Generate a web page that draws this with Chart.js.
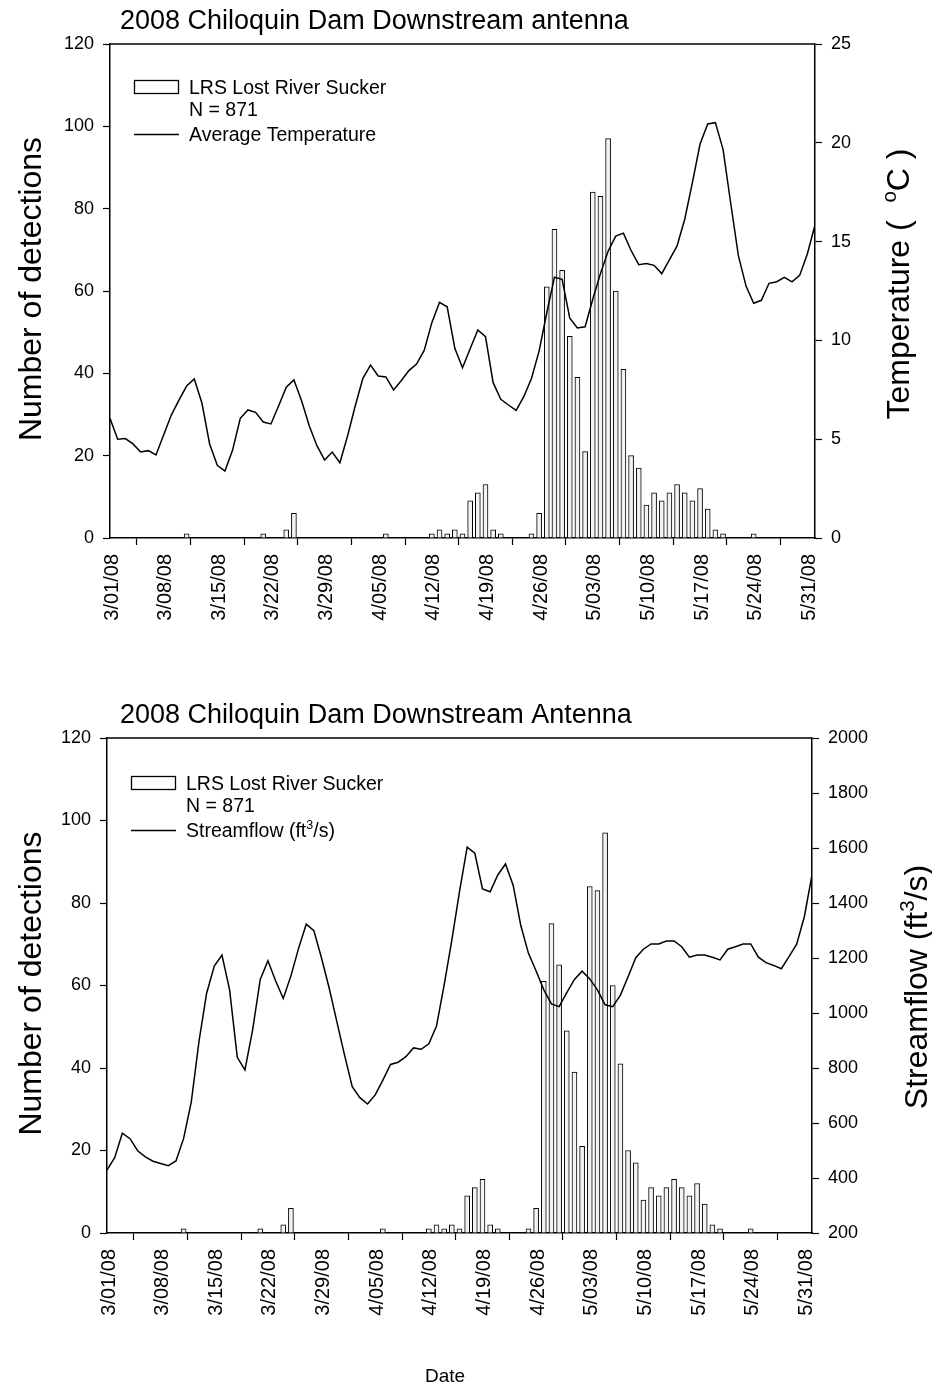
<!DOCTYPE html>
<html>
<head>
<meta charset="utf-8">
<script src="https://cdn.jsdelivr.net/npm/chart.js@4.4.1/dist/chart.umd.min.js"></script>
<style>
  html, body { margin: 0; padding: 0; background: #fff; }
  canvas { position: absolute; left: 0; }
  #top { top: 0; }
  #bottom { top: 690px; }
</style>
</head>
<body>
<canvas id="top" width="932" height="690"></canvas>
<canvas id="bottom" width="932" height="697"></canvas>
<script>
// day index 0 = 3/01/08
const tickDays = [0, 7, 14, 21, 28, 35, 42, 49, 56, 63, 70, 77, 84, 91];
const tickLabels = ['3/01/08', '3/08/08', '3/15/08', '3/22/08', '3/29/08', '4/05/08', '4/12/08',
  '4/19/08', '4/26/08', '5/03/08', '5/10/08', '5/17/08', '5/24/08', '5/31/08'];

// daily detections (only days with detections)
const barDays = [10, 20, 23, 24, 36, 42, 43, 44, 45, 46, 47, 48, 49, 50, 51, 55, 56,
  57, 58, 59, 60, 61, 62, 63, 64, 65, 66, 67, 68, 69, 70, 71, 72, 73, 74, 75, 76, 77, 78, 79, 80, 84];
const barCounts = [1, 1, 2, 6, 1, 1, 2, 1, 2, 1, 9, 11, 13, 2, 1, 1, 6,
  61, 75, 65, 49, 39, 21, 84, 83, 97, 60, 41, 20, 17, 8, 11, 9, 11, 13, 11, 9, 12, 7, 2, 1, 1];

// average temperature, deg C, days 0..92
const tempValues = [6.06, 5.00, 5.03, 4.76, 4.35, 4.42, 4.20, 5.21, 6.22, 6.98,
  7.69, 8.05, 6.82, 4.76, 3.68, 3.39, 4.45, 6.06, 6.48, 6.36,
  5.87, 5.77, 6.68, 7.63, 8.00, 6.95, 5.68, 4.67, 3.95, 4.35,
  3.81, 5.16, 6.68, 8.08, 8.75, 8.20, 8.15, 7.49, 7.96, 8.47,
  8.80, 9.49, 10.90, 11.93, 11.70, 9.60, 8.62, 9.58, 10.53, 10.19,
  7.86, 7.02, 6.73, 6.46, 7.15, 8.07, 9.47, 11.40, 13.20, 13.09,
  11.12, 10.63, 10.69, 12.08, 13.38, 14.51, 15.28, 15.43, 14.55, 13.83,
  13.89, 13.80, 13.38, 14.07, 14.78, 16.13, 17.98, 19.94, 20.95, 21.02,
  19.67, 16.94, 14.29, 12.75, 11.88, 12.03, 12.89, 12.97, 13.19, 12.96,
  13.29, 14.37, 15.84];

// streamflow, ft3/s, days 0..92
const flowValues = [429, 474, 563, 543, 499, 477, 461, 453, 445, 462,
  544, 677, 896, 1072, 1171, 1211, 1084, 839, 793, 938,
  1122, 1190, 1117, 1053, 1135, 1235, 1323, 1299, 1199, 1090,
  968, 847, 732, 692, 669, 702, 756, 813, 821, 841,
  873, 868, 888, 953, 1102, 1265, 1441, 1603, 1581, 1451,
  1441, 1502, 1542, 1465, 1318, 1217, 1153, 1084, 1033, 1023,
  1074, 1122, 1152, 1124, 1084, 1030, 1023, 1065, 1132, 1201,
  1232, 1251, 1251, 1262, 1262, 1241, 1203, 1211, 1211, 1203,
  1193, 1232, 1241, 1251, 1251, 1203, 1183, 1173, 1161, 1205,
  1250, 1350, 1502];

const FONT = '"Liberation Sans", Arial, Helvetica, sans-serif';
Chart.defaults.font.family = FONT;
Chart.defaults.color = '#000';

// text with optional superscript parts: [[text, isSup], ...]
function drawRich(ctx, parts, size, x, y, rotate, align) {
  ctx.save();
  ctx.translate(x, y);
  if (rotate) ctx.rotate(-Math.PI / 2);
  let w = 0;
  parts.forEach(p => {
    ctx.font = (p[1] ? size * 0.64 : size) + 'px ' + FONT;
    w += ctx.measureText(p[0]).width;
  });
  let cx = align === 'left' ? 0 : -w / 2;
  ctx.textBaseline = 'alphabetic';
  ctx.fillStyle = '#000';
  parts.forEach(p => {
    ctx.font = (p[1] ? size * 0.64 : size) + 'px ' + FONT;
    ctx.fillText(p[0], cx, p[1] ? size * 0.35 - size * 0.42 : size * 0.35);
    cx += ctx.measureText(p[0]).width;
  });
  ctx.restore();
}

const panelText = {
  id: 'panelText',
  afterDraw(chart) {
    const o = chart.options.plugins.panelText;
    const ctx = chart.ctx, a = chart.chartArea;
    ctx.save();
    // frame top line
    ctx.strokeStyle = '#000';
    ctx.lineWidth = 1.5;
    ctx.beginPath();
    ctx.moveTo(a.left, a.top);
    ctx.lineTo(a.right, a.top);
    ctx.stroke();

    ctx.fillStyle = '#000';
    ctx.font = '27px ' + FONT;
    ctx.textBaseline = 'alphabetic';
    ctx.fillText(o.title, 120, o.titleY);

    drawRich(ctx, [['Number of detections']], 32, 30, (a.top + a.bottom) / 2 - 2, true);
    drawRich(ctx, o.rightTitle, 32, o.rightX, o.rightY, true);

    // legend
    const lx = a.left + 24, ly = o.legendY;
    ctx.lineWidth = 1.3;
    ctx.fillStyle = '#fff';
    ctx.fillRect(lx, ly - 7, 44, 14);
    ctx.strokeRect(lx + 0.5, ly - 6.5, 44, 13);
    ctx.lineWidth = 1.5;
    ctx.beginPath();
    ctx.moveTo(lx, ly + 47.5);
    ctx.lineTo(lx + 45, ly + 47.5);
    ctx.stroke();
    drawRich(ctx, [['LRS Lost River Sucker']], 19.5, lx + 55, ly, false, 'left');
    drawRich(ctx, [['N = 871']], 19.5, lx + 55, ly + 22, false, 'left');
    drawRich(ctx, o.lineLabel, 19.5, lx + 55, ly + 47, false, 'left');

    if (o.xTitle) drawRich(ctx, [[o.xTitle]], 19, 445, o.xTitleY, false);
    ctx.restore();
  }
};

function axisStyle() {
  return {
    grid: { display: true, drawOnChartArea: false, drawTicks: true, tickLength: 7, color: '#000', tickWidth: 1.2 },
    border: { display: true, color: '#000', width: 1.5 }
  };
}

function makePanel(id, o) {
  return new Chart(document.getElementById(id), {
    type: 'bar',
    data: {
      datasets: [
        {
          type: 'line',
          data: o.line.map((v, i) => ({ x: i, y: v })),
          yAxisID: 'y1',
          borderColor: '#000',
          borderWidth: 1.5,
          pointRadius: 0,
          tension: 0,
          order: 0
        },
        {
          data: barDays.map((d, i) => ({ x: d, y: barCounts[i] })),
          yAxisID: 'y',
          backgroundColor: '#f3f3f3',
          borderColor: '#000',
          borderWidth: 1,
          barThickness: 5,
          order: 1
        }
      ]
    },
    options: {
      responsive: false,
      animation: false,
      layout: { padding: { top: o.top, left: 0, right: 0, bottom: 0 } },
      plugins: { legend: { display: false }, tooltip: { enabled: false }, panelText: o },
      scales: {
        x: Object.assign(axisStyle(), {
          type: 'linear',
          offset: false,
          min: 0,
          max: 92,
          afterBuildTicks: s => { s.ticks = tickDays.map(v => ({ value: v })); },
          afterFit: s => { s.height = o.xHeight; },
          ticks: {
            callback: v => tickLabels[tickDays.indexOf(v)],
            minRotation: 90,
            maxRotation: 90,
            padding: 9,
            labelOffset: 2,
            font: { size: 20 },
            color: '#000'
          }
        }),
        y: Object.assign(axisStyle(), {
          position: 'left',
          min: 0,
          max: 120,
          afterFit: s => { s.width = o.leftW; },
          ticks: { stepSize: 20, padding: 9, font: { size: 18 }, color: '#000' }
        }),
        y1: Object.assign(axisStyle(), {
          position: 'right',
          min: o.rMin,
          max: o.rMax,
          afterFit: s => { s.width = o.rightW; },
          ticks: { stepSize: o.rStep, padding: 9, font: { size: 18 }, color: '#000', callback: v => String(v) }
        })
      }
    },
    plugins: [panelText]
  });
}

makePanel('top', {
  line: tempValues,
  top: 44, xHeight: 152, leftW: 110, rightW: 117,
  rMin: 0, rMax: 25, rStep: 5,
  title: '2008 Chiloquin Dam Downstream antenna', titleY: 29,
  rightTitle: [['Temperature (  '], ['o', true], ['C )']], rightX: 898, rightY: 284,
  lineLabel: [['Average Temperature']],
  legendY: 87
});

makePanel('bottom', {
  line: flowValues,
  top: 48, xHeight: 154, leftW: 107, rightW: 120,
  rMin: 200, rMax: 2000, rStep: 200,
  title: '2008 Chiloquin Dam Downstream Antenna', titleY: 33,
  rightTitle: [['Streamflow (ft'], ['3', true], ['/s)']], rightX: 916, rightY: 297,
  lineLabel: [['Streamflow (ft'], ['3', true], ['/s)']],
  legendY: 93,
  xTitle: 'Date', xTitleY: 685
});
</script>
</body>
</html>
